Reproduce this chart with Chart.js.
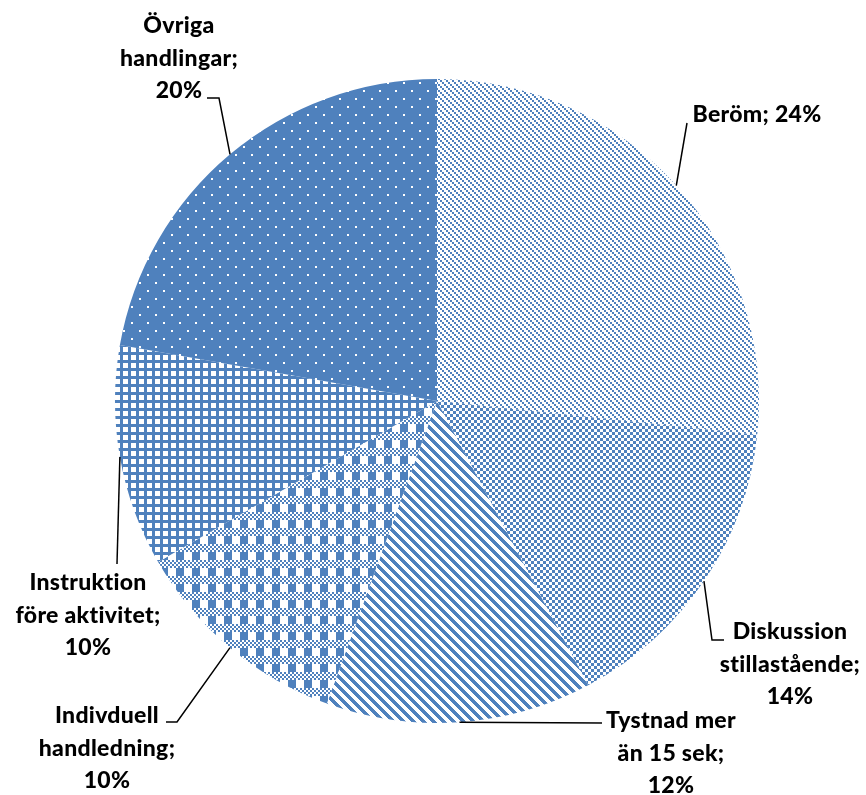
<html>
<head>
<script src="https://cdn.jsdelivr.net/npm/chart.js@4"></script>
<style>
	body { margin: 0; background: #fff; }
	#wrap { width: 866px; height: 795px; }
</style>
</head>
<body>
<div id="wrap"><canvas id="myChart" width="866" height="795"></canvas></div>
<script>
		// categories and values (labels show the rounded percentages)
		var categories = ['Beröm', 'Diskussion stillastående', 'Tystnad mer än 15 sek', 'Indivduell handledning', 'Instruktion före aktivitet', 'Övriga handlingar'];
		var values = [24, 14, 12, 10, 10, 20];
		// how the label text is broken into lines
		var labelLines = [
			['Beröm; 24%'],
			['Diskussion', 'stillastående;', '14%'],
			['Tystnad mer', 'än 15 sek;', '12%'],
			['Indivduell', 'handledning;', '10%'],
			['Instruktion', 'före aktivitet;', '10%'],
			['Övriga', 'handlingar;', '20%']
		];

		var BLUE = 'rgb(79,129,189)';

		function makePattern(w, h, bg, draw) {
			var c = document.createElement('canvas');
			c.width = w; c.height = h;
			var g = c.getContext('2d');
			g.fillStyle = bg;
			g.fillRect(0, 0, w, h);
			draw(g);
			return g.createPattern(c, 'repeat');
		}

		// Beröm - light downward diagonal
		var patBerom = makePattern(6, 6, '#fff', function(g) {
			g.fillStyle = BLUE;
			g.fillRect(0, 0, 2, 2); g.fillRect(2, 2, 2, 2); g.fillRect(4, 4, 2, 2);
		});
		// Diskussion - small checker
		var patDisk = makePattern(6, 6, '#fff', function(g) {
			g.fillStyle = BLUE;
			g.fillRect(0, 0, 3, 3); g.fillRect(3, 3, 3, 3);
		});
		// Tystnad - wide downward diagonal
		var patTyst = makePattern(10, 10, '#fff', function(g) {
			g.fillStyle = BLUE;
			for (var y = 0; y < 10; y++) {
				for (var k = 0; k < 5; k++) {
					g.fillRect((y + k) % 10, y, 1, 1);
				}
			}
		});
		// Individuell - plaid
		var patIndiv = makePattern(16, 16, '#fff', function(g) {
			g.fillStyle = BLUE;
			for (var y = 0; y < 8; y += 2) {
				for (var x = 0; x < 16; x += 2) {
					if (((x + y) / 2) % 2 == 0) g.fillRect(x, y, 2, 2);
				}
			}
			g.fillRect(0, 8, 8, 8);
		});
		// Instruktion - grid
		var patInstr = makePattern(8, 8, '#fff', function(g) {
			g.fillStyle = BLUE;
			g.fillRect(0, 0, 8, 3);
			g.fillRect(0, 0, 3, 8);
		});
		// Övriga - blue with white dots
		var patOvr = makePattern(16, 16, BLUE, function(g) {
			g.fillStyle = '#fff';
			g.fillRect(3, 2, 2, 2);
			g.fillRect(11, 10, 2, 2);
		});

		var patterns = [patBerom, patDisk, patTyst, patIndiv, patInstr, patOvr];

		// label placement: centre x, first baseline, then the leader path after the slice point
		var labelPos = [
			{ x: 757, y: 122, align: 'center', path: [[687, 123]] },
			{ x: 790, y: 639, align: 'center', path: [[712, 640], [724, 640]] },
			{ x: 671, y: 728, align: 'center', path: [[602, 723]] },
			{ x: 107, y: 723, align: 'center', path: [[177, 722], [166, 722]] },
			{ x: 88, y: 590, align: 'center', path: [[117, 564]] },
			{ x: 179, y: 33, align: 'center', path: [[219, 98], [207, 98]] }
		];

		var pieLabels = {
			id: 'pieLabels',
			afterDatasetsDraw: function(chart) {
				var ctx = chart.ctx;
				var arcs = chart.getDatasetMeta(0).data;
				ctx.save();
				ctx.strokeStyle = '#000';
				ctx.lineWidth = 1.5;
				for (var i = 0; i < arcs.length; i++) {
					var a = arcs[i];
					var mid = (a.startAngle + a.endAngle) / 2;
					var px = a.x + Math.cos(mid) * a.outerRadius;
					var py = a.y + Math.sin(mid) * a.outerRadius;
					ctx.beginPath();
					ctx.moveTo(px, py);
					var p = labelPos[i].path;
					for (var j = 0; j < p.length; j++) ctx.lineTo(p[j][0], p[j][1]);
					ctx.stroke();
				}
				ctx.fillStyle = '#000';
				ctx.font = '900 23px Lato';
				ctx.letterSpacing = '0.3px';
				ctx.textBaseline = 'alphabetic';
				for (var i = 0; i < labelLines.length; i++) {
					ctx.textAlign = labelPos[i].align;
					for (var k = 0; k < labelLines[i].length; k++) {
						ctx.fillText(labelLines[i][k], labelPos[i].x, labelPos[i].y + k * 32.5);
					}
				}
				ctx.restore();
			}
		};

		var ctx = document.getElementById('myChart').getContext('2d');
		var chart = new Chart(ctx, {
			type: 'pie',
			data: {
				labels: categories,
				datasets: [{
					data: values,
					backgroundColor: patterns,
					borderWidth: 0
				}]
			},
			options: {
				responsive: false,
				animation: false,
				layout: { padding: { top: 79, bottom: 72, left: 115, right: 107 } },
				plugins: {
					legend: { display: false },
					tooltip: { enabled: false }
				}
			},
			plugins: [pieLabels]
		});
</script>
</body>
</html>
